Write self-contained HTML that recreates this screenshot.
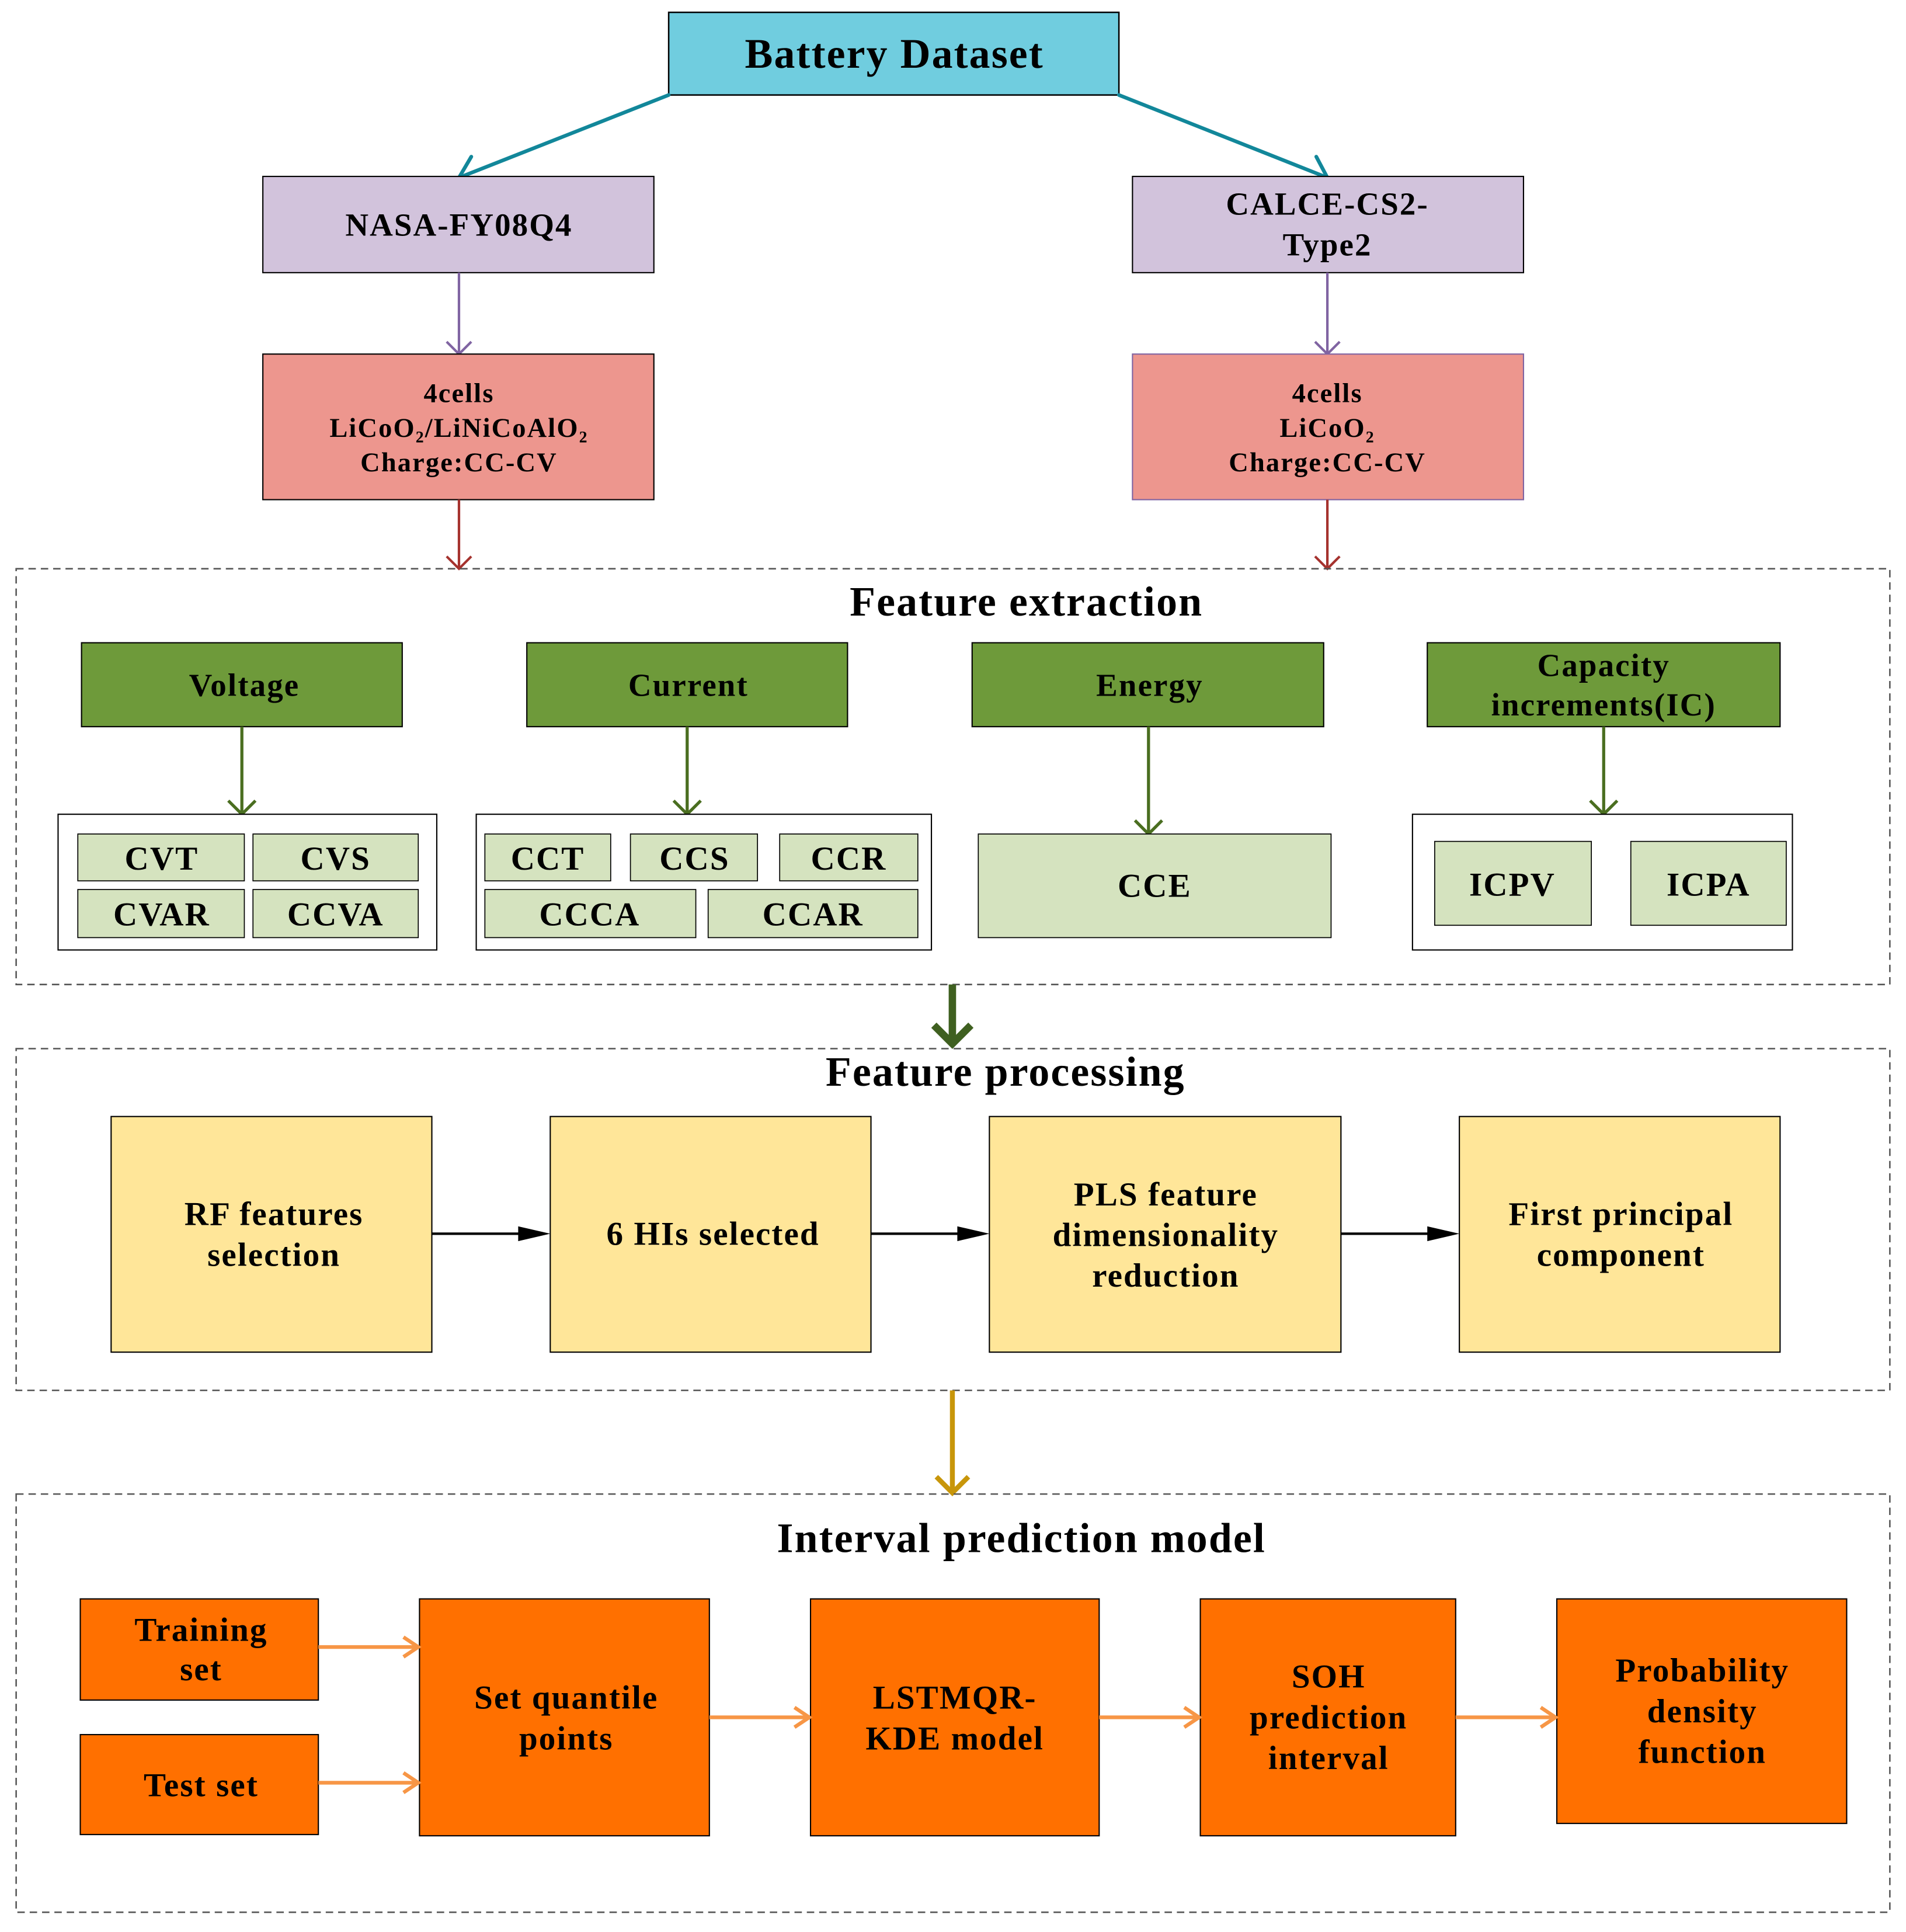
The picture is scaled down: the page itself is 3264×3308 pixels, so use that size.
<!DOCTYPE html>
<html><head><meta charset="utf-8"><style>
html,body{margin:0;padding:0;background:#fff;}
svg{display:block;}
text{font-family:"Liberation Serif",serif;font-weight:bold;fill:#000;text-anchor:middle;letter-spacing:1px;}
</style></head><body>
<svg width="3264" height="3308" viewBox="0 0 1545 1566" xmlns="http://www.w3.org/2000/svg">
<rect width="1545" height="1566" fill="#fff"/>
<!-- top -->
<rect x="542" y="10" width="365" height="67" fill="#70CDDF" stroke="#000" stroke-width="1.2"/>
<text x="725" y="55" font-size="34">Battery Dataset</text>
<g stroke="#12879A" stroke-width="3" fill="none" stroke-linecap="round">
<line x1="542" y1="77" x2="372" y2="144"/><polyline points="382,127 372,144 391,148"/>
<line x1="907" y1="77" x2="1076" y2="144"/><polyline points="1057,148 1076,144 1067,127"/>
</g>
<rect x="213" y="143" width="317" height="78" fill="#D2C3DC" stroke="#000" stroke-width="1"/>
<text x="372" y="191" font-size="26">NASA-FY08Q4</text>
<rect x="918" y="143" width="317" height="78" fill="#D2C3DC" stroke="#000" stroke-width="1"/>
<text x="1076" y="174" font-size="26">CALCE-CS2-</text>
<text x="1076" y="207" font-size="26">Type2</text>
<g stroke="#8064A2" stroke-width="2" fill="none">
<line x1="372" y1="221" x2="372" y2="287"/><polyline points="362,277 372,287 382,277"/>
<line x1="1076" y1="221" x2="1076" y2="287"/><polyline points="1066,277 1076,287 1086,277"/>
</g>
<rect x="213" y="287" width="317" height="118" fill="#ED968E" stroke="#000" stroke-width="1"/>
<text x="372" y="326" font-size="22">4cells</text>
<text x="372" y="354" font-size="22">LiCoO₂/LiNiCoAlO₂</text>
<text x="372" y="382" font-size="22">Charge:CC-CV</text>
<rect x="918" y="287" width="317" height="118" fill="#ED968E" stroke="#8064A2" stroke-width="1"/>
<text x="1076" y="326" font-size="22">4cells</text>
<text x="1076" y="354" font-size="22">LiCoO₂</text>
<text x="1076" y="382" font-size="22">Charge:CC-CV</text>
<g stroke="#A5322E" stroke-width="2" fill="none">
<line x1="372" y1="405" x2="372" y2="461"/><polyline points="362,451 372,461 382,451"/>
<line x1="1076" y1="405" x2="1076" y2="461"/><polyline points="1066,451 1076,461 1086,451"/>
</g>
<!-- feature extraction -->
<rect x="13" y="461" width="1519" height="337" fill="none" stroke="#555" stroke-width="1.2" stroke-dasharray="6,4"/>
<text x="832" y="499" font-size="34">Feature extraction</text>
<g fill="#6E9A3A" stroke="#000" stroke-width="1">
<rect x="66" y="521" width="260" height="68"/><rect x="427" y="521" width="260" height="68"/>
<rect x="788" y="521" width="285" height="68"/><rect x="1157" y="521" width="286" height="68"/>
</g>
<text x="198" y="564" font-size="26">Voltage</text>
<text x="558" y="564" font-size="26">Current</text>
<text x="932" y="564" font-size="26">Energy</text>
<text x="1300" y="548" font-size="26">Capacity</text>
<text x="1300" y="580" font-size="26">increments(IC)</text>
<g stroke="#4A6E20" stroke-width="2.5" fill="none">
<line x1="196" y1="589" x2="196" y2="660"/><polyline points="185,649 196,660 207,649"/>
<line x1="557" y1="589" x2="557" y2="660"/><polyline points="546,649 557,660 568,649"/>
<line x1="931" y1="589" x2="931" y2="676"/><polyline points="920,665 931,676 942,665"/>
<line x1="1300" y1="589" x2="1300" y2="660"/><polyline points="1289,649 1300,660 1311,649"/>
</g>
<g fill="#fff" stroke="#000" stroke-width="1">
<rect x="47" y="660" width="307" height="110"/><rect x="386" y="660" width="369" height="110"/>
<rect x="1145" y="660" width="308" height="110"/>
</g>
<g fill="#D5E3BF" stroke="#000" stroke-width="0.8">
<rect x="63" y="676" width="135" height="38"/><rect x="205" y="676" width="134" height="38"/>
<rect x="63" y="721" width="135" height="39"/><rect x="205" y="721" width="134" height="39"/>
<rect x="393" y="676" width="102" height="38"/><rect x="511" y="676" width="103" height="38"/><rect x="632" y="676" width="112" height="38"/>
<rect x="393" y="721" width="171" height="39"/><rect x="574" y="721" width="170" height="39"/>
<rect x="793" y="676" width="286" height="84"/>
<rect x="1163" y="682" width="127" height="68"/><rect x="1322" y="682" width="126" height="68"/>
</g>
<g font-size="27">
<text x="131" y="705" style="font-size:27px">CVT</text>
<text x="272" y="705" style="font-size:27px">CVS</text>
<text x="131" y="750" style="font-size:27px">CVAR</text>
<text x="272" y="750" style="font-size:27px">CCVA</text>
<text x="444" y="705" style="font-size:27px">CCT</text>
<text x="563" y="705" style="font-size:27px">CCS</text>
<text x="688" y="705" style="font-size:27px">CCR</text>
<text x="478" y="750" style="font-size:27px">CCCA</text>
<text x="659" y="750" style="font-size:27px">CCAR</text>
<text x="936" y="727" style="font-size:27px">CCE</text>
<text x="1226" y="726" style="font-size:27px">ICPV</text>
<text x="1385" y="726" style="font-size:27px">ICPA</text>
</g>
<g stroke="#3F6020" stroke-width="6" fill="none">
<line x1="772" y1="798" x2="772" y2="846"/><polyline points="757,831 772,846 787,831"/>
</g>
<!-- feature processing -->
<rect x="13" y="850" width="1519" height="277" fill="none" stroke="#555" stroke-width="1.2" stroke-dasharray="6,4"/>
<text x="815" y="880" font-size="34">Feature processing</text>
<g fill="#FFE699" stroke="#000" stroke-width="1">
<rect x="90" y="905" width="260" height="191"/><rect x="446" y="905" width="260" height="191"/>
<rect x="802" y="905" width="285" height="191"/><rect x="1183" y="905" width="260" height="191"/>
</g>
<text x="222" y="993" font-size="27">RF features</text>
<text x="222" y="1026" font-size="27">selection</text>
<text x="578" y="1009" font-size="27">6 HIs selected</text>
<text x="945" y="977" font-size="27">PLS feature</text>
<text x="945" y="1010" font-size="27">dimensionality</text>
<text x="945" y="1043" font-size="27">reduction</text>
<text x="1314" y="993" font-size="27">First principal</text>
<text x="1314" y="1026" font-size="27">component</text>
<g stroke="#000" stroke-width="2">
<line x1="350" y1="1000" x2="425" y2="1000"/><line x1="706" y1="1000" x2="781" y2="1000"/><line x1="1087" y1="1000" x2="1162" y2="1000"/>
</g>
<g fill="#000">
<polygon points="446,1000 420,994 420,1006"/><polygon points="802,1000 776,994 776,1006"/><polygon points="1183,1000 1157,994 1157,1006"/>
</g>
<g stroke="#C8960A" stroke-width="4" fill="none">
<line x1="772" y1="1127" x2="772" y2="1210"/><polyline points="759,1197 772,1210 785,1197"/>
</g>
<!-- interval prediction -->
<rect x="13" y="1211" width="1519" height="339" fill="none" stroke="#555" stroke-width="1.2" stroke-dasharray="6,4"/>
<text x="828" y="1258" font-size="34">Interval prediction model</text>
<g fill="#FF7000" stroke="#000" stroke-width="1">
<rect x="65" y="1296" width="193" height="82"/><rect x="65" y="1406" width="193" height="81"/>
<rect x="340" y="1296" width="235" height="192"/><rect x="657" y="1296" width="234" height="192"/>
<rect x="973" y="1296" width="207" height="192"/><rect x="1262" y="1296" width="235" height="182"/>
</g>
<text x="163" y="1330" font-size="27">Training</text>
<text x="163" y="1362" font-size="27">set</text>
<text x="163" y="1456" font-size="27">Test set</text>
<text x="459" y="1385" font-size="27">Set quantile</text>
<text x="459" y="1418" font-size="27">points</text>
<text x="774" y="1385" font-size="27">LSTMQR-</text>
<text x="774" y="1418" font-size="27">KDE model</text>
<text x="1077" y="1368" font-size="27">SOH</text>
<text x="1077" y="1401" font-size="27">prediction</text>
<text x="1077" y="1434" font-size="27">interval</text>
<text x="1380" y="1363" font-size="27">Probability</text>
<text x="1380" y="1396" font-size="27">density</text>
<text x="1380" y="1429" font-size="27">function</text>
<g stroke="#F79646" stroke-width="3" fill="none">
<line x1="258" y1="1335" x2="339" y2="1335"/><polyline points="327,1327 339,1335 327,1343"/>
<line x1="258" y1="1445" x2="339" y2="1445"/><polyline points="327,1437 339,1445 327,1453"/>
<line x1="575" y1="1392" x2="656" y2="1392"/><polyline points="644,1384 656,1392 644,1400"/>
<line x1="891" y1="1392" x2="972" y2="1392"/><polyline points="960,1384 972,1392 960,1400"/>
<line x1="1180" y1="1392" x2="1261" y2="1392"/><polyline points="1249,1384 1261,1392 1249,1400"/>
</g>
</svg>
</body></html>
